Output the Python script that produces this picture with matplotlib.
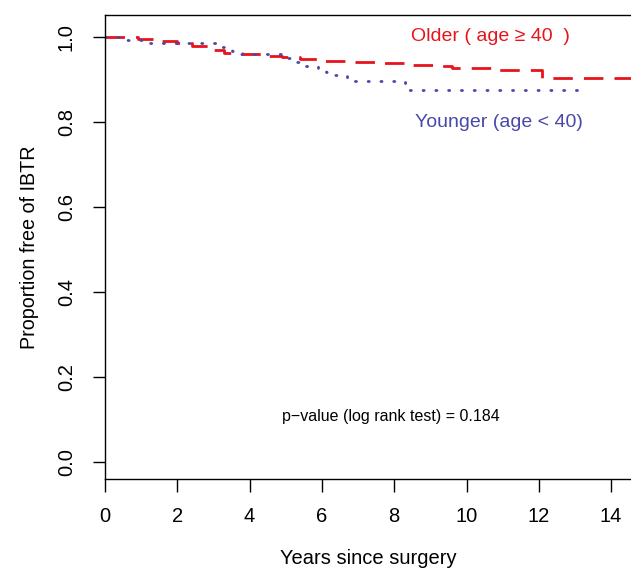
import matplotlib.pyplot as plt

plt.rcParams['font.family'] = ['Liberation Sans', 'DejaVu Sans']

# Kaplan-Meier step curves
older_t = [0, 0.9, 1.5, 2.0, 2.4, 2.9, 3.3, 3.8, 4.4, 4.9, 5.4, 6.0, 6.7, 7.5, 8.4, 9.2, 9.6, 10.8, 12.1, 14.6]
older_s = [1.0, 0.995, 0.991, 0.986, 0.978, 0.969, 0.962, 0.960, 0.956, 0.953, 0.948, 0.944, 0.941, 0.938,
           0.935, 0.932, 0.927, 0.922, 0.904, 0.904]

younger_t = [0, 0.6, 1.1, 3.2, 3.5, 3.7, 5.0, 5.2, 5.4, 5.9, 6.1, 6.3, 6.7, 8.3, 8.4, 13.1]
younger_s = [1.0, 0.993, 0.986, 0.977, 0.968, 0.960, 0.951, 0.942, 0.932, 0.925, 0.918, 0.910, 0.897,
             0.891, 0.876, 0.876]

xticks = [0, 2, 4, 6, 8, 10, 12, 14]
yticks = [0.0, 0.2, 0.4, 0.6, 0.8, 1.0]

red = '#e8141c'
blue = '#4a48a8'

fig = plt.figure(figsize=(6.31, 5.71), dpi=100)
ax = fig.add_axes([0.1664, 0.1611, 0.8336, 0.8126])

ax.plot(older_t, older_s, drawstyle='steps-post', color=red, lw=2.0, dashes=(7, 4))
ax.plot(younger_t, younger_s, drawstyle='steps-post', color=blue, lw=2.0, dashes=(0.4, 4.2),
        dash_capstyle='round')

ax.set_xlim(0, 14.55)
ax.set_ylim(-0.04, 1.052)
ax.spines['right'].set_visible(False)
for s in ['left', 'top', 'bottom']:
    ax.spines[s].set_linewidth(1.0)

ax.set_xticks(xticks)
ax.set_xticklabels([str(x) for x in xticks])
ax.set_yticks(yticks)
ax.set_yticklabels(['%.1f' % y for y in yticks], rotation=90, va='center')
ax.tick_params(axis='both', length=9, width=1.0, labelsize=14.5)
ax.tick_params(axis='x', pad=11)
ax.tick_params(axis='y', pad=12)

ax.set_xlabel('Years since surgery', fontsize=14.5, labelpad=17)
ax.set_ylabel('Proportion free of IBTR', fontsize=14.2, labelpad=13)

ax.text(10.65, 1.002, 'Older ( age \u2265 40  )', color=red, fontsize=14, ha='center', va='center')
ax.text(10.9, 0.80, 'Younger (age < 40)', color=blue, fontsize=14, ha='center', va='center')
ax.text(7.9, 0.106, 'p\u2212value (log rank test) = 0.184', color='black', fontsize=11.5,
        ha='center', va='center')

fig.savefig('out.png', dpi=100)
